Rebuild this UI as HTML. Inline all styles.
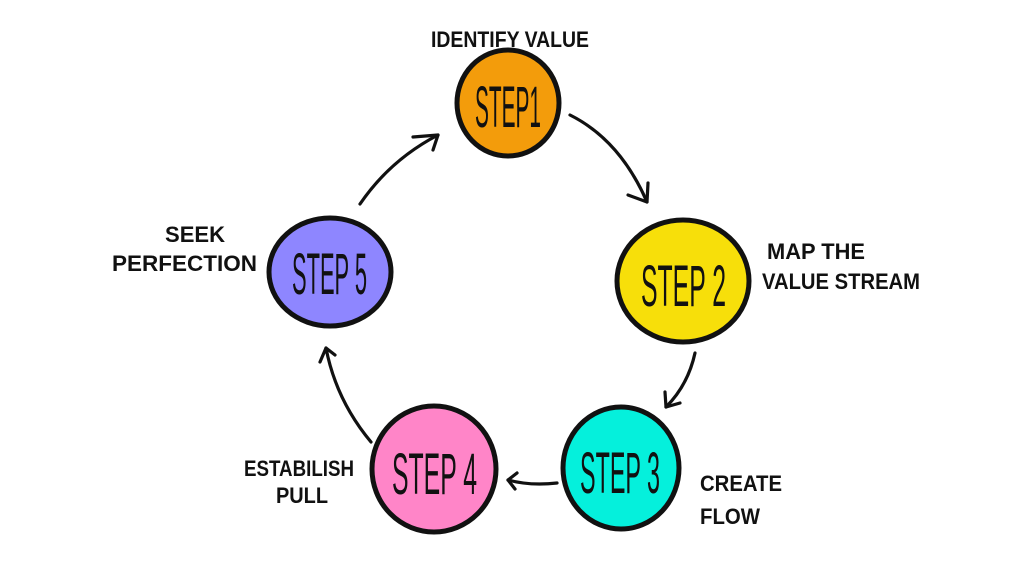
<!DOCTYPE html>
<html><head><meta charset="utf-8"><style>
html,body{margin:0;padding:0;background:#fff;}
svg{display:block}
text{font-family:"Liberation Sans",sans-serif;fill:#111;}
.l{font-size:22px;font-weight:bold;}
.s{font-size:58px;}
</style></head><body>
<svg width="1024" height="576" viewBox="0 0 1024 576" xmlns="http://www.w3.org/2000/svg">
<g stroke="#111" stroke-width="5">
<ellipse cx="508" cy="103" rx="51" ry="53" fill="#F39C0B"/>
<ellipse cx="683" cy="281" rx="66" ry="61" fill="#F7DF0A"/>
<ellipse cx="621" cy="468" rx="58" ry="61" fill="#05F0DC"/>
<ellipse cx="434" cy="469" rx="62" ry="63" fill="#FF85C8"/>
<ellipse cx="330" cy="272" rx="61" ry="54" fill="#8E86FF"/>
</g>
<g stroke="#111" stroke-width="3.2" fill="none" stroke-linecap="round" stroke-linejoin="round">
<path d="M570 115 Q620 140 647 202"/><path d="M628 195 L647 202 L648 183"/>
<path d="M360 204 Q390 160 438 135"/><path d="M413 137 L438 135 L433 150"/>
<path d="M695 353 Q688 385 666 407"/><path d="M680 403 L666 407 L665 392"/>
<path d="M557 483 Q530 486 508 480"/><path d="M517 473 L508 480 L515 489"/>
<path d="M371 442 Q336 400 326 348"/><path d="M320 362 L326 348 L335 355"/>
</g>
<g>
<text class="s" x="475" y="127" textLength="66" lengthAdjust="spacingAndGlyphs">STEP1</text>
<text class="s" x="641" y="306" textLength="85" lengthAdjust="spacingAndGlyphs">STEP 2</text>
<text class="s" x="580" y="493" textLength="80" lengthAdjust="spacingAndGlyphs">STEP 3</text>
<text class="s" x="392" y="494" textLength="85" lengthAdjust="spacingAndGlyphs">STEP 4</text>
<text class="s" x="292" y="294" textLength="75" lengthAdjust="spacingAndGlyphs">STEP 5</text>
</g>
<g class="l">
<text class="l" x="431" y="47" textLength="158" lengthAdjust="spacingAndGlyphs">IDENTIFY VALUE</text>
<text class="l" x="165" y="242" textLength="60" lengthAdjust="spacingAndGlyphs">SEEK</text>
<text class="l" x="112" y="271" textLength="145" lengthAdjust="spacingAndGlyphs">PERFECTION</text>
<text class="l" x="767" y="259" textLength="98" lengthAdjust="spacingAndGlyphs">MAP THE</text>
<text class="l" x="762" y="289" textLength="158" lengthAdjust="spacingAndGlyphs">VALUE STREAM</text>
<text class="l" x="244" y="476" textLength="110" lengthAdjust="spacingAndGlyphs">ESTABILISH</text>
<text class="l" x="276" y="503" textLength="52" lengthAdjust="spacingAndGlyphs">PULL</text>
<text class="l" x="700" y="491" textLength="82" lengthAdjust="spacingAndGlyphs">CREATE</text>
<text class="l" x="700" y="524" textLength="60" lengthAdjust="spacingAndGlyphs">FLOW</text>
</g>
</svg>
</body></html>
